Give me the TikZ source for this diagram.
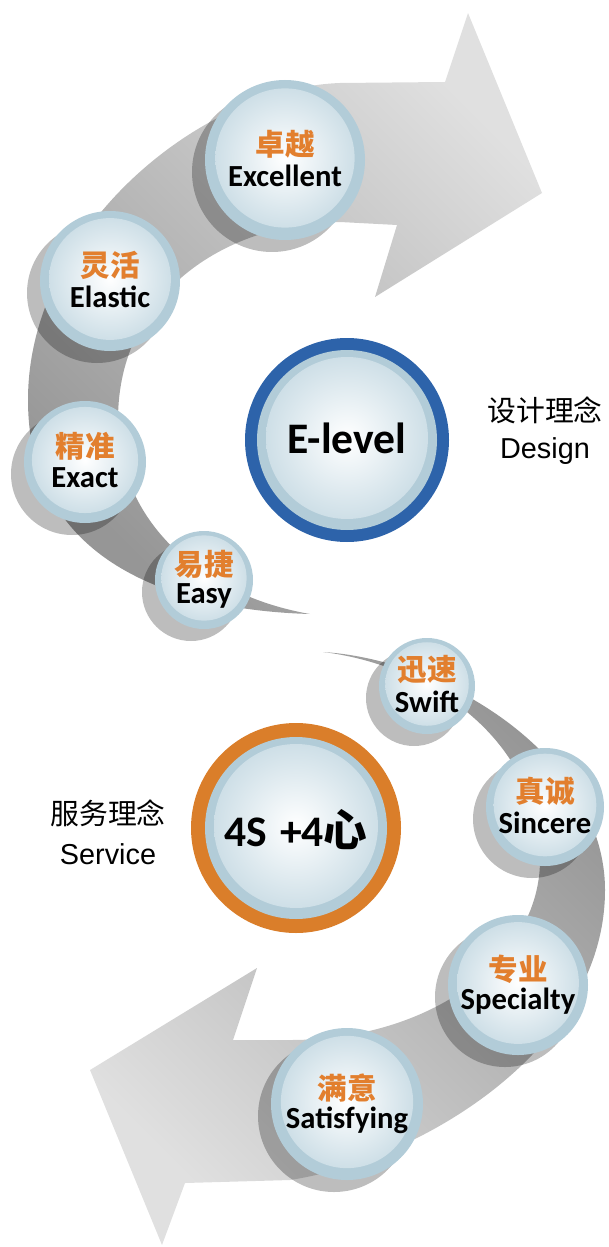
\documentclass[tikz,border=0pt]{standalone}
\usepackage{fontspec}
\usetikzlibrary{calc}
\newfontfamily\zhfont{Noto Sans CJK SC}
\newfontfamily\enfont{Carlito}
\newfontfamily\capfont{Liberation Sans}

\definecolor{labelorange}{RGB}{226,127,46}
\definecolor{ringblue}{RGB}{178,204,216}
\definecolor{coreblue}{RGB}{206,223,231}
\definecolor{designblue}{RGB}{45,99,170}
\definecolor{serviceorange}{RGB}{218,126,42}
\definecolor{bandlight}{RGB}{224,224,224}
\definecolor{banddark}{RGB}{150,150,150}

\tikzset{
  zhlabel/.style={font=\zhfont\bfseries\fontsize{21}{23}\selectfont, text=labelorange, inner sep=0pt},
  enlabel/.style={font=\enfont\bfseries\fontsize{21.8}{23}\selectfont, text=black, inner sep=0pt},
  biglabel/.style={font=\enfont\bfseries\fontsize{31}{33}\selectfont, text=black, inner sep=0pt},
  sidelabel/.style={font=\capfont\fontsize{20.5}{23}\selectfont, text=black, inner sep=0pt},
  bubbleshadow/.style={fill=black, opacity=0.26},
}

% bubble: name, centre, radius, chinese, english
\newcommand\bubble[5]{%
  \fill[ringblue] #2 circle (#3);
  \shade[inner color=white, outer color=coreblue] ($#2+(0,-2)$) circle ({0.87*#3});
  \node[zhlabel] (#1-zh) at ($#2+(0,-16)$) {#4};
  \node[enlabel] (#1) at ($#2+(0,16)$) {#5};
}

\begin{document}
\begin{tikzpicture}[x=0.025cm, y=-0.025cm]
  \useasboundingbox (0,0) rectangle (609,1247);

  % upper arrow
  \shade[top color=bandlight, bottom color=banddark, shading angle=-45]
    (310,614) .. controls (170,610) and (28,560) .. (28,400)
    .. controls (28,230) and (200,88) .. (340,83)
    -- (445,82) -- (468,13) -- (542,193) -- (375,297) -- (397,225) -- (340,222)
    .. controls (230,222) and (118,290) .. (118,420)
    .. controls (118,520) and (200,595) .. (310,614) -- cycle;

  % lower arrow
  \shade[top color=banddark, bottom color=bandlight, shading angle=-45]
    (323,652) .. controls (450,660) and (605,760) .. (605,890)
    .. controls (605,1050) and (420,1160) .. (290,1180)
    -- (185,1183) -- (162,1245) -- (90,1070) -- (257,968) -- (233,1040) -- (290,1040)
    .. controls (430,1040) and (540,960) .. (540,860)
    .. controls (540,740) and (430,665) .. (323,652) -- cycle;

  % shadows
  \foreach \x/\y/\r in {285/160/80, 110/281/70, 85/462/61, 204/580/49,
                        427/686/48, 545/807/59, 518/985/70, 347/1104/76}
    \fill[bubbleshadow] (\x-13,\y+12) circle (\r);

  \bubble{excellent}{(285,160)}{80}{卓越}{Excellent}
  \bubble{elastic}{(110,281)}{70}{灵活}{Elastic}
  \bubble{exact}{(85,462)}{61}{精准}{Exact}
  \bubble{easy}{(204,580)}{49}{易捷}{Easy}
  \bubble{swift}{(427,686)}{48}{迅速}{Swift}
  \bubble{sincere}{(545,807)}{59}{真诚}{Sincere}
  \bubble{specialty}{(518,985)}{70}{专业}{Specialty}
  \bubble{satisfying}{(347,1104)}{76}{满意}{Satisfying}

  % centre circles
  \fill[designblue] (347,440) circle (102);
  \fill[ringblue] (347,440) circle (90);
  \shade[inner color=white, outer color=coreblue] (347,438) circle (81);
  \node[biglabel] (elevel) at (347,438) {E-level};

  \fill[serviceorange] (296,828) circle (105);
  \fill[ringblue] (296,828) circle (91);
  \shade[inner color=white, outer color=coreblue] (296,826) circle (82);
  \node[biglabel] (service) at (296,830) {4S\hspace{0.3em}+4{\zhfont\bfseries 心}};

  % side captions
  \node[sidelabel] (design-zh) at (545,410) {\zhfont 设计理念};
  \node[sidelabel] (design) at (545,451) {Design};
  \node[sidelabel] (service-zh) at (108,813) {\zhfont 服务理念};
  \node[sidelabel] (service-en) at (108,854) {Service};
\end{tikzpicture}
\end{document}
